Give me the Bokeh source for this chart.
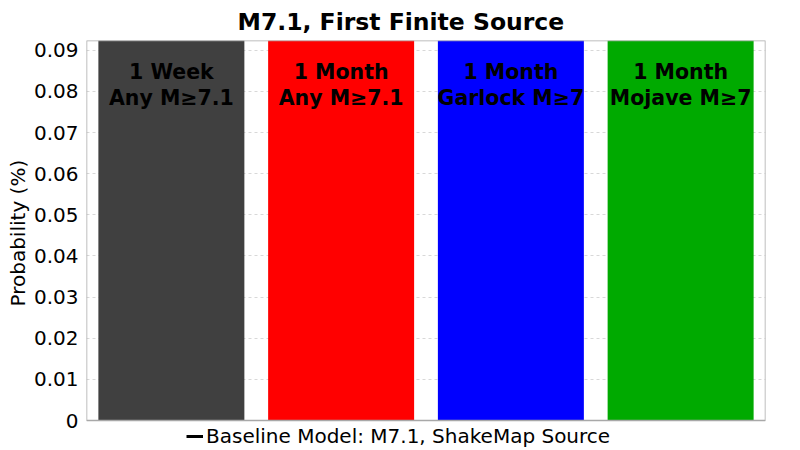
from bokeh.plotting import figure
from bokeh.models import Range1d, FixedTicker, Legend, LegendItem, ColumnDataSource, BoxAnnotation, Title
from bokeh.core.properties import value
from bokeh.embed import file_html
from bokeh.resources import INLINE

# ---- data ----
label_line1 = ["1 Week", "1 Month", "1 Month", "1 Month"]
label_line2 = ["Any M≥7.1", "Any M≥7.1", "Garlock M≥7", "Mojave M≥7"]
probabilities = [0.16, 0.55, 0.14, 0.24]      # bars extend beyond the visible range
baseline = [0.12, 0.40, 0.10, 0.18]           # baseline model (off the visible range)
colors = ["#404040", "#FF0000", "#0000FF", "#00AA00"]
y_ticks = [0, 0.01, 0.02, 0.03, 0.04, 0.05, 0.06, 0.07, 0.08, 0.09]
y_tick_labels = ["0", "0.01", "0.02", "0.03", "0.04", "0.05", "0.06", "0.07", "0.08", "0.09"]

FONT = "DejaVu Sans"
y_max = 0.0924
# extra room below zero (30 px out of 380 px) for the legend strip
y_min = -y_max * 30 / 380
idx = list(range(len(probabilities)))
bar_w = 0.86

src = ColumnDataSource(dict(
    x=idx, top=probabilities, color=colors, l1=label_line1, l2=label_line2,
    x0=[i - bar_w / 2 for i in idx], x1=[i + bar_w / 2 for i in idx], base=baseline,
    y1=[y_max - 0.0076] * len(idx), y2=[y_max - 0.0139] * len(idx),
))

p = figure(width=800, height=450, output_backend="svg", toolbar_location=None,
           x_range=Range1d(-0.5, 3.5), y_range=Range1d(y_min, y_max),
           min_border_left=86, min_border_right=35, min_border_top=40, min_border_bottom=0)

p.title.text = "M7.1, First Finite Source"
p.title.text_font = FONT
p.title.text_font_size = "23.5px"
p.title.text_font_style = "bold"
p.title.text_color = "black"
p.title.align = "left"
p.title.offset = 151

p.vbar(x="x", top="top", width=bar_w, color="color", line_color=None, source=src)
seg = p.segment(x0="x0", x1="x1", y0="base", y1="base", line_color="black", line_width=3, source=src)

p.text(x="x", y="y1", text="l1", source=src, text_font=value(FONT), text_font_size="20.5px",
       text_font_style="bold", text_align="center", text_baseline="middle", text_color="black")
p.text(x="x", y="y2", text="l2", source=src, text_font=value(FONT), text_font_size="20.5px",
       text_font_style="bold", text_align="center", text_baseline="middle", text_color="black")

p.xaxis.visible = False
p.xgrid.visible = False
p.ygrid.ticker = FixedTicker(ticks=y_ticks)
p.ygrid.grid_line_color = "#d8d8d8"
p.ygrid.grid_line_dash = "3 3"

ya = p.yaxis[0]
ya.ticker = FixedTicker(ticks=y_ticks)
ya.major_label_overrides = {t: l for t, l in zip(y_ticks, y_tick_labels)}
ya.major_label_text_font = FONT
ya.major_label_text_font_size = "20px"
ya.major_label_text_color = "black"
ya.major_tick_line_color = None
ya.major_tick_out = 0
ya.major_tick_in = 0
ya.minor_tick_line_color = None
ya.axis_line_color = None
ya.major_label_standoff = 8

ylab = Title(text="Probability (%)", align="left", offset=144, text_font=FONT,
             text_font_size="20px", text_font_style="normal", text_color="black", standoff=2)
p.add_layout(ylab, "left")

# plot box over the data area (0 .. y_max)
p.outline_line_color = None
p.add_layout(BoxAnnotation(left=-0.5, right=3.5, bottom=0, top=y_max, fill_alpha=0,
                           line_color="#a8a8a8", line_alpha=1, line_width=1.5, level="overlay"))
p.background_fill_color = "white"
p.border_fill_color = "white"

legend = Legend(items=[LegendItem(label="Baseline Model: M7.1, ShakeMap Source", renderers=[seg])],
                location=(100, 2), orientation="horizontal",
                label_text_font=FONT, label_text_font_size="20px", label_text_color="black",
                glyph_width=17, label_standoff=3, padding=0, margin=0, spacing=0,
                border_line_color=None, background_fill_alpha=0)
p.add_layout(legend, "center")

open("out.html", "w").write(file_html(p, INLINE))
